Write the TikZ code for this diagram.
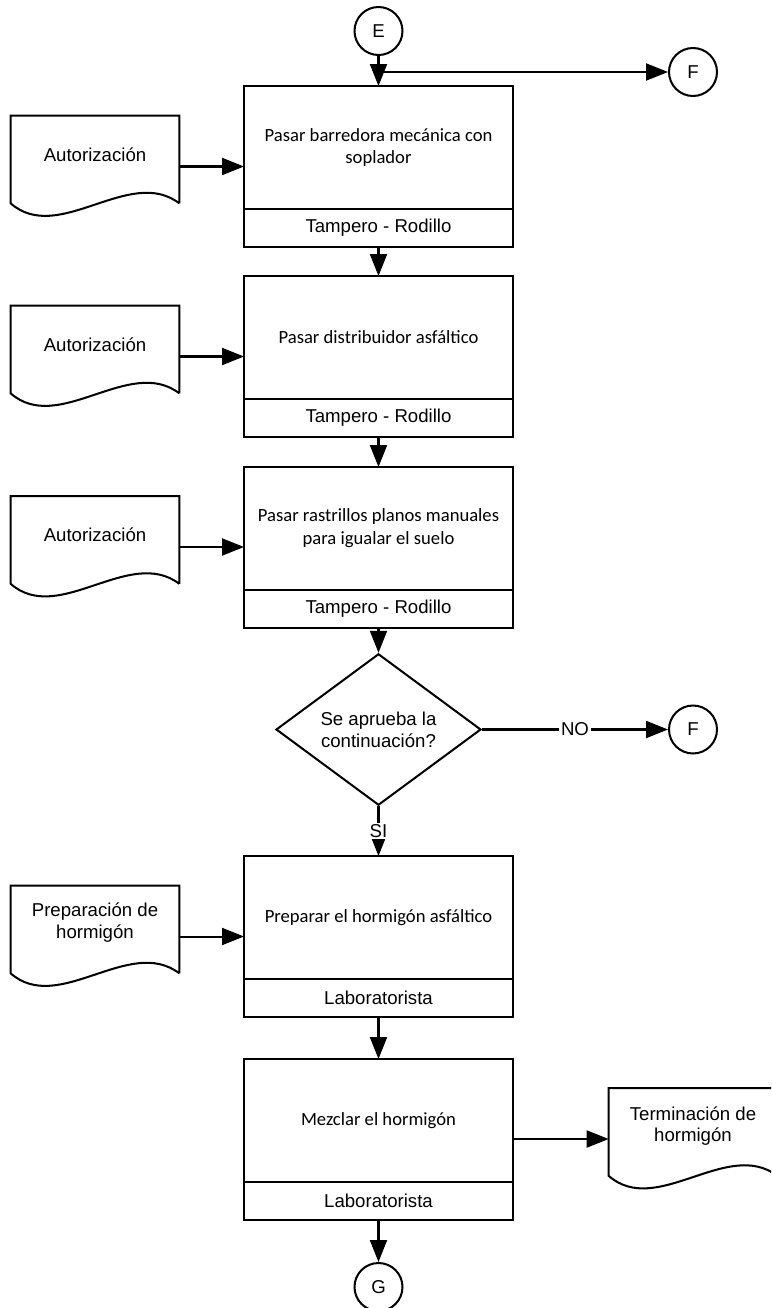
\documentclass[tikz,border=0pt]{standalone}
\usepackage{fontspec}
\setmainfont{Liberation Sans}
\newfontfamily\calibri{Carlito}
\usetikzlibrary{arrows.meta,shapes.geometric}

\tikzset{
    linea/.style={line width=1.15pt},
    flecha/.style={linea, -{Triangle[length=0.44cm,width=0.34cm]}},
    paso/.style={draw, linea, minimum width=5.38cm, minimum height=2.46cm, inner sep=0pt, outer sep=0pt,
        align=center, font=\calibri\fontsize{10.6}{13}\selectfont},
    resp/.style={draw, linea, minimum width=5.38cm, minimum height=0.76cm, inner sep=0pt, outer sep=0pt, anchor=north},
    conector/.style={draw, linea, circle, minimum size=0.96cm, inner sep=0pt},
    hoja/.style={minimum width=3.36cm, minimum height=2.02cm, inner sep=0pt},
    decision/.style={draw, linea, diamond, minimum width=4.1cm, minimum height=2.42cm, inner sep=0pt, align=center},
    etiqueta/.style={fill=white, inner sep=1pt}
}

% outline of a document sheet around an empty hoja node
\newcommand{\hoja}[1]{%
    \draw[linea] ([shift={(0,14)}]#1.south east) -- (#1.north east) -- (#1.north west)
        -- ([shift={(0,14)}]#1.south west)
        .. controls ([shift={(48,-28)}]#1.south west) and ([shift={(-50,52)}]#1.south east)
        .. ([shift={(0,14)}]#1.south east);
}

\begin{document}
\begin{tikzpicture}[x=0.02cm, y=0.02cm, font=\fontsize{10.6}{12.4}\selectfont]
        \clip (0,0) rectangle (771,-1308);

        % Connectors
        \node[conector] (e) at (378.5,-31) {E};
        \node[conector] (f1) at (693,-72) {F};
        \node[conector] (f2) at (693,-729.5) {F};
        \node[conector] (g) at (378.5,-1287) {G};

        % Steps
        \node[paso] (p1) at (378.5,-147.5) {Pasar barredora mecánica con\\soplador};
        \node[resp] (r1) at (p1.south) {Tampero - Rodillo};

        \node[paso] (p2) at (378.5,-337.5) {Pasar distribuidor asfáltico};
        \node[resp] (r2) at (p2.south) {Tampero - Rodillo};

        \node[paso] (p3) at (378.5,-528.5) {Pasar rastrillos planos manuales\\para igualar el suelo};
        \node[resp] (r3) at (p3.south) {Tampero - Rodillo};

        \node[decision] (dec) at (378.5,-729.5) {Se aprueba la\\continuación?};

        \node[paso] (p4) at (378.5,-917.5) {Preparar el hormigón asfáltico};
        \node[resp] (r4) at (p4.south) {Laboratorista};

        \node[paso] (p5) at (378.5,-1120.5) {Mezclar el hormigón};
        \node[resp] (r5) at (p5.south) {Laboratorista};

        % Documents
        \node[hoja] (d1) at (95,-166.5) {};
        \node (t1) at ([yshift=0.24cm]d1.center) {Autorización};
        \hoja{d1}

        \node[hoja] (d2) at (95,-356.5) {};
        \node (t2) at ([yshift=0.24cm]d2.center) {Autorización};
        \hoja{d2}

        \node[hoja] (d3) at (95,-547) {};
        \node (t3) at ([yshift=0.24cm]d3.center) {Autorización};
        \hoja{d3}

        \node[hoja] (d4) at (95,-936.5) {};
        \node[align=center] (t4) at ([yshift=0.28cm]d4.center) {Preparación de\\hormigón};
        \hoja{d4}

        \node[hoja] (d5) at (693,-1139) {};
        \node[align=center] (t5) at ([yshift=0.26cm]d5.center) {Terminación de\\hormigón};
        \hoja{d5}

        % Arrows
        \draw[flecha] (e) -- (p1);
        \draw[flecha] (p1.north |- f1.west) -- (f1);
        \draw[flecha] (r1) -- (p2);
        \draw[flecha] (r2) -- (p3);
        \draw[flecha] (r3) -- (dec);
        \draw[flecha] (dec) -- node[etiqueta] {NO} (f2);
        \draw[flecha] (dec) -- node[etiqueta] {SI} (p4);
        \draw[flecha] (r4) -- (p5);
        \draw[flecha] (r5) -- (g);

        \draw[flecha] (d1) -- (d1 -| p1.west);
        \draw[flecha] (d2) -- (d2 -| p2.west);
        \draw[flecha] (d3) -- (d3 -| p3.west);
        \draw[flecha] (d4) -- (d4 -| p4.west);
        \draw[flecha] (p5.east |- d5.west) -- (d5);
\end{tikzpicture}
\end{document}
